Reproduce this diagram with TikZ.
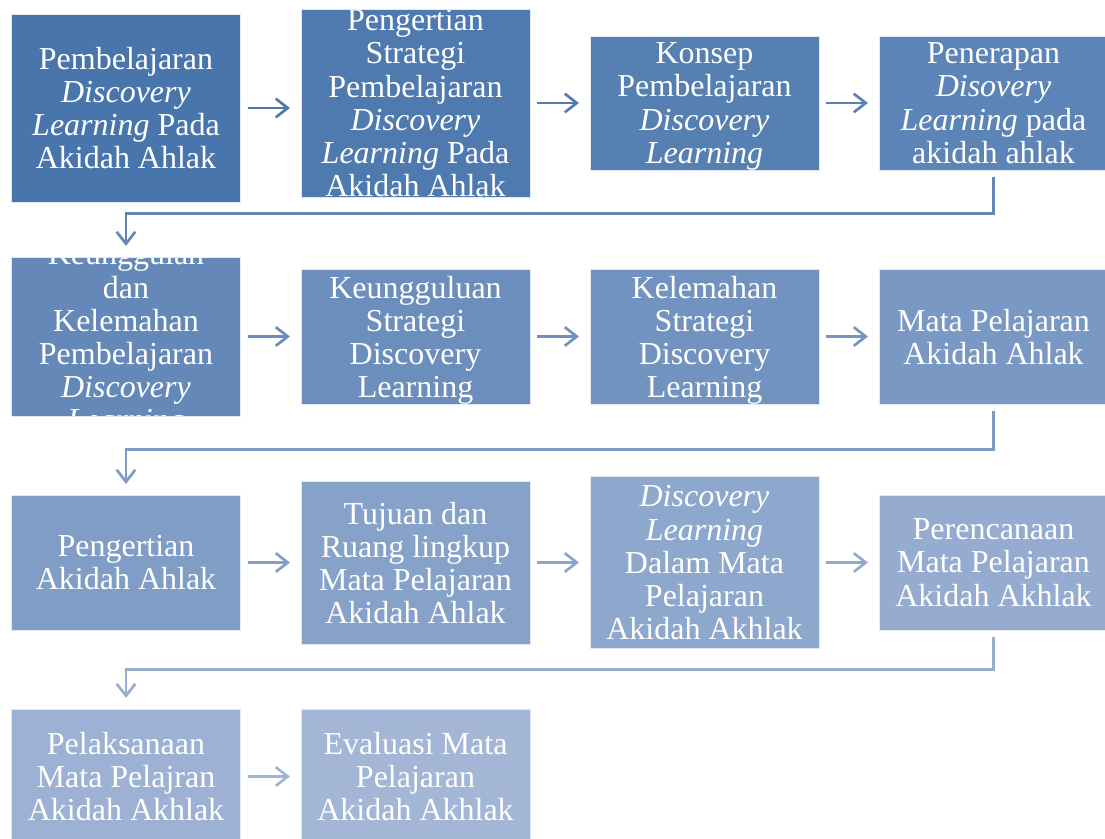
\documentclass[tikz,border=0pt]{standalone}
\usepackage{fontspec}
\setmainfont{Liberation Serif}
\usetikzlibrary{arrows.meta}
\definecolor{deepblue}{RGB}{72,117,172}
\definecolor{paleblue}{RGB}{163,182,214}

\begin{document}
\begin{tikzpicture}[x=0.75pt,y=-0.75pt,
    box/.style={fill=paleblue!#1!deepblue,draw=white!70!paleblue,line width=0.6pt,
        text=white,align=center,inner sep=2pt,minimum width=171.75pt,text depth=0pt,
        font=\fontsize{24}{24.8}\selectfont},
    boxtext/.style={text=white,align=center,text depth=0pt,font=\fontsize{24}{24.8}\selectfont},
    arr/.style={draw=paleblue!#1!deepblue,line width=2pt,
        -{Straight Barb[length=9pt,width=14pt]},shorten <=5pt,shorten >=8pt}]
    \useasboundingbox (0,0) rectangle (1105,838);
    %row 1
    \node[box=0,minimum height=141pt] (b1) at (126,108)
        {Pembelajaran\\ \textit{Discovery}\\ \textit{Learning} Pada\\ Akidah Ahlak};
    \node[box=8,minimum height=141pt,path picture={
        \node[boxtext] (b2text) at (path picture bounding box.center)
        {Pengertian\\ Strategi\\ Pembelajaran\\ \textit{Discovery}\\ \textit{Learning} Pada\\ Akidah Ahlak};}]
        (b2) at (415.5,103) {};
    \node[box=15,minimum height=100.5pt] (b3) at (704.5,103)
        {Konsep\\ Pembelajaran\\ \textit{Discovery}\\ \textit{Learning}};
    \node[box=23,minimum height=100.5pt] (b4) at (993.5,103)
        {Penerapan\\ \textit{Disovery}\\ \textit{Learning} pada\\ akidah ahlak};
    %row 2
    \node[box=31,minimum height=119.25pt,path picture={
        \node[boxtext] (b5text) at (path picture bounding box.center)
        {Keunggulan\\ dan\\ Kelemahan\\ Pembelajaran\\ \textit{Discovery}\\ \textit{Learning}};}]
        (b5) at (126,336.5) {};
    \node[box=38,minimum height=101.25pt] (b6) at (415.5,336.5)
        {Keungguluan\\ Strategi\\ Discovery\\ Learning};
    \node[box=46,minimum height=101.25pt] (b7) at (704.5,336.5)
        {Kelemahan\\ Strategi\\ Discovery\\ Learning};
    \node[box=54,minimum height=101.25pt] (b8) at (993.5,336.5)
        {Mata Pelajaran\\ Akidah Ahlak};
    %row 3
    \node[box=62,minimum height=101.25pt] (b9) at (126,562.5)
        {Pengertian\\ Akidah Ahlak};
    \node[box=69,minimum height=122.25pt] (b10) at (415.5,562.5)
        {Tujuan dan\\ Ruang lingkup\\ Mata Pelajaran\\ Akidah Ahlak};
    \node[box=77,minimum height=129pt] (b11) at (704.5,562.5)
        {\textit{Discovery}\\ \textit{Learning}\\ Dalam Mata\\ Pelajaran\\ Akidah Akhlak};
    \node[box=85,minimum height=101.25pt] (b12) at (993.5,562.5)
        {Perencanaan\\ Mata Pelajaran\\ Akidah Akhlak};
    %row 4
    \node[box=92,minimum height=101.25pt] (b13) at (126,776.5)
        {Pelaksanaan\\ Mata Pelajran\\ Akidah Akhlak};
    \node[box=100,minimum height=101.25pt] (b14) at (415.5,776.5)
        {Evaluasi Mata\\ Pelajaran\\ Akidah Akhlak};
    %arrows
    \draw[arr=4] (b1.east) -- (b2.west |- b1.east);
    \draw[arr=12] (b2) -- (b3);
    \draw[arr=19] (b3) -- (b4);
    \draw[arr=27] (b4.south) -- ++(0,43) -| (b5.north);
    \draw[arr=35] (b5) -- (b6);
    \draw[arr=42] (b6) -- (b7);
    \draw[arr=50] (b7) -- (b8);
    \draw[arr=58] (b8.south) -- ++(0,45) -| (b9.north);
    \draw[arr=65] (b9) -- (b10);
    \draw[arr=73] (b10) -- (b11);
    \draw[arr=81] (b11) -- (b12);
    \draw[arr=88] (b12.south) -- ++(0,39) -| (b13.north);
    \draw[arr=96] (b13) -- (b14);
\end{tikzpicture}
\end{document}
